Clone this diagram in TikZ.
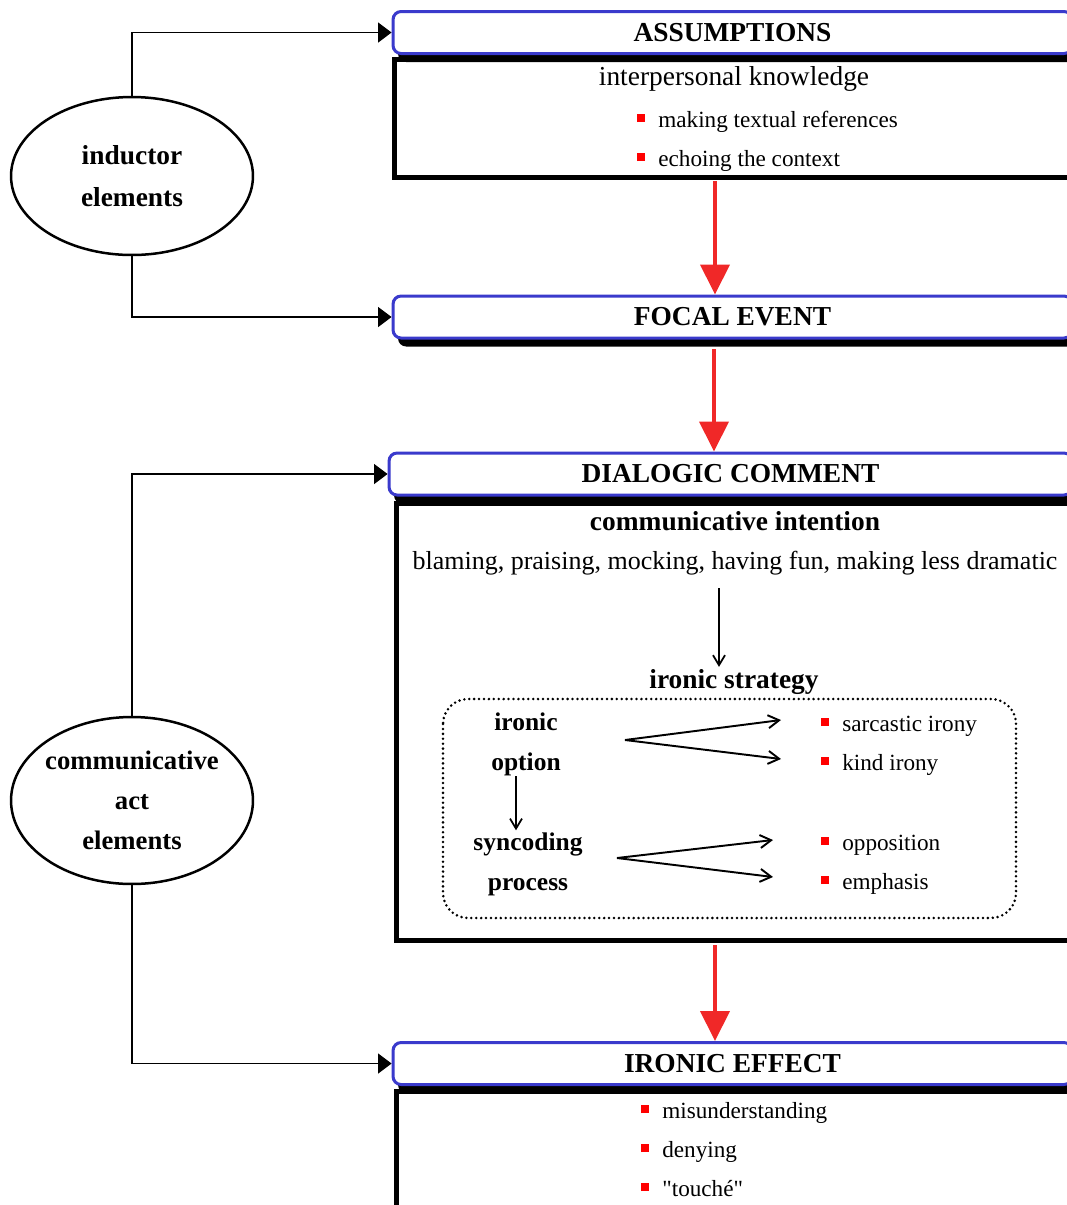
\documentclass[tikz,border=0pt]{standalone}
\usepackage{fontspec}
\setmainfont{Liberation Serif}
\usetikzlibrary{arrows.meta,shapes.geometric,shadows}

\definecolor{hdrblue}{RGB}{58,58,204}
\definecolor{flowred}{RGB}{240,40,40}
\definecolor{dotred}{RGB}{255,0,0}

\newcommand{\sizeL}{\fontsize{15.6}{23.9}\selectfont}
\newcommand{\sizeM}{\fontsize{14.5}{22.8}\selectfont}
\newcommand{\sizeS}{\fontsize{13.2}{22}\selectfont}
\newcommand{\redsq}{{\color{dotred}\rule[0.1cm]{0.16cm}{0.16cm}}\hspace{0.26cm}}

\tikzset{
  hdrbox/.style={draw=hdrblue, line width=0.06cm, rounded corners=0.16cm, fill=white,
    minimum width=13.58cm, minimum height=0.84cm, inner sep=0pt, font=\sizeL\bfseries,
    drop shadow={shadow xshift=0.1cm, shadow yshift=-0.17cm, fill=black, opacity=1}},
  bodybox/.style={draw, line width=0.1cm},
  oval/.style={draw, ellipse, line width=0.05cm, minimum width=4.84cm, align=center,
    inner sep=0pt, font=\sizeL\bfseries},
  txt/.style={inner sep=1pt},
  item/.style={anchor=base west, inner sep=0pt, font=\sizeS},
  flow/.style={draw=flowred, line width=0.08cm, -{Triangle[length=0.6cm,width=0.58cm]}},
  side/.style={line width=0.7pt, -{Triangle[length=0.27cm,width=0.4cm]}},
  pointer/.style={line width=1pt, -{Straight Barb[length=0.2cm,width=0.24cm]}},
  forkarrow/.style={line width=1.1pt, -{Straight Barb[length=0.22cm,width=0.26cm]}},
  dotline/.style={line width=1.6pt, dash pattern=on 0pt off 2.8pt, line cap=round}
}

\begin{document}
\begin{tikzpicture}[x=0.02cm,y=-0.02cm]
\useasboundingbox (0,0) rectangle (1067,1205);

%draws body boxes
\draw[bodybox] (394.5,59) rectangle (1090,177.5);
\draw[bodybox] (396,503) rectangle (1090,940);
\draw[bodybox] (396,1091) rectangle (1090,1230);

%headers
\node[hdrbox] (assum) at (732.5,32.5) {ASSUMPTIONS};
\node[hdrbox] (focal) at (732.5,317) {FOCAL EVENT};
\node[hdrbox, minimum width=13.66cm] (dialog) at (730.5,474) {DIALOGIC COMMENT};
\node[hdrbox] (effect) at (732.5,1063.5) {IRONIC EFFECT};

%ellipses
\node[oval, minimum height=3.16cm] (induct) at (132,176) {inductor\\elements};
\node[oval, minimum height=3.34cm, inner xsep=-0.06cm, font=\fontsize{15.2}{22.8}\selectfont\bfseries]
  (commact) at (132,800.5) {communicative\\act\\elements};

\draw[side] (induct.north) |- (assum.west);
\draw[side] (induct.south) |- (focal.west);
\draw[side] (commact.north) |- (dialog.west);
\draw[side] (commact.south) |- (effect.west);

%assumptions
\node[txt, font=\sizeL, anchor=base] (interp) at (734,85) {interpersonal knowledge};
\foreach \lbl [count=\i] in {making textual references, echoing the context}
  \node[item] (asm\i) at (637,{88+39*\i}) {\redsq\lbl};

%red flow
\coordinate (r1) at (715,181);
\coordinate (r2) at (714,349);
\coordinate (r3) at (715,945);
\draw[flow] (r1) -- (r1 |- focal.north);
\draw[flow] (r2) -- (r2 |- dialog.north);
\draw[flow] (r3) -- (r3 |- effect.north);

%dialogic comment
\node[txt, font=\sizeL\bfseries, anchor=base] (intent) at (735,530) {communicative intention};
\node[txt, font=\fontsize{14.8}{22}\selectfont, anchor=base] (blame) at (735,569)
  {blaming, praising, mocking, having fun, making less dramatic};
\node[txt, font=\sizeL\bfseries, anchor=base] (strategy) at (734,688) {ironic strategy};
\coordinate (c1) at (719,588);
\draw[pointer] (c1) -- (c1 |- strategy.north);

\draw[dotline, rounded corners=0.5cm] (443,699) rectangle (1016,918);

\node[txt, font=\sizeM\bfseries, align=center] (iroopt) at (526,744) {ironic\\option};
\node[txt, font=\sizeM\bfseries, align=center] (synproc) at (528,864) {syncoding\\process};
\coordinate (c2) at (516,776);
\draw[pointer] (c2) -- (c2 |- synproc.north);

\coordinate (f1) at (625,740);
\coordinate (f1a) at (781,720);
\coordinate (f1b) at (781,759);
\coordinate (f2) at (617,858);
\coordinate (f2a) at (773,840);
\coordinate (f2b) at (773,877);
\foreach \e in {f1a,f1b}
  \draw[forkarrow] (f1) -- (\e);
\foreach \e in {f2a,f2b}
  \draw[forkarrow] (f2) -- (\e);

\foreach \lbl [count=\i] in {sarcastic irony, kind irony}
  \node[item] (opt\i) at (821,{692+39*\i}) {\redsq\lbl};
\foreach \lbl [count=\i] in {opposition, emphasis}
  \node[item] (proc\i) at (821,{811+39*\i}) {\redsq\lbl};

%ironic effect
\foreach \lbl [count=\i] in {misunderstanding, denying, \textquotedbl touché\textquotedbl}
  \node[item] (eff\i) at (641,{1079+39*\i}) {\redsq\lbl};
\end{tikzpicture}
\end{document}
